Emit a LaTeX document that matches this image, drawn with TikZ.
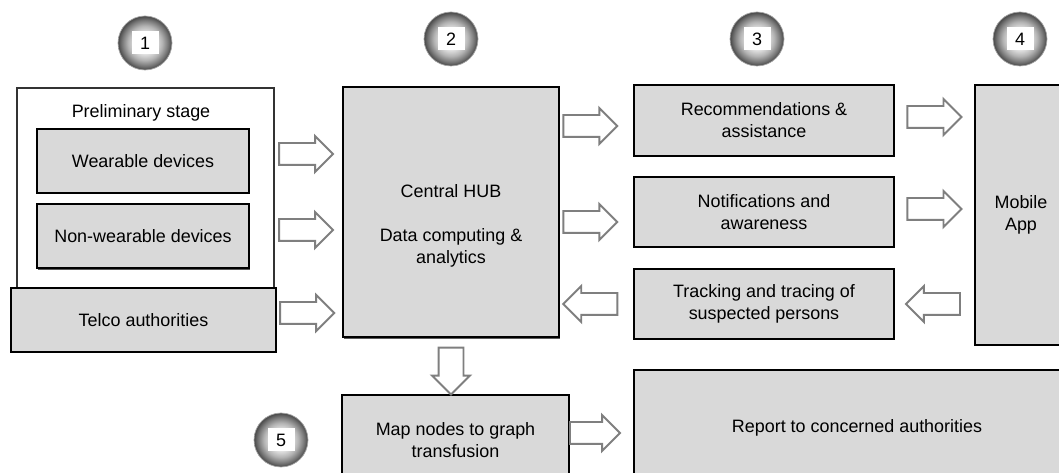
\documentclass[tikz,border=0pt]{standalone}
\usepackage{fontspec}
\setmainfont{Liberation Sans}
\usetikzlibrary{positioning,calc,shapes.arrows,shadows}
\definecolor{boxgray}{HTML}{D9D9D9}
\definecolor{arrowgray}{HTML}{7F7F7F}
\pgfdeclareradialshading{badgeshade}{\pgfpoint{0cm}{0cm}}{color(0bp)=(white); color(9bp)=(black!8); color(16bp)=(black!30); color(21bp)=(black!52); color(25bp)=(black!72); color(50bp)=(black!72)}

\begin{document}
\begin{tikzpicture}[x=0.2mm,y=-0.2mm,
  every node/.style={font=\fontsize{10.2}{12.5}\selectfont},
  sz/.style 2 args={minimum width=#1*0.2mm, minimum height=#2*0.2mm},
  blk/.style={draw=black, line width=1.1pt, fill=boxgray, align=center, inner sep=2pt},
  outerbox/.style={draw=black!80, line width=1.3pt, fill=white, inner sep=0pt},
  shadowed/.style={drop shadow={shadow xshift=0.2mm, shadow yshift=-0.5mm, fill=black!80, opacity=0.8}},
  barrow/.style={single arrow, draw=arrowgray, fill=white, line width=1.1pt, inner xsep=0pt,
    inner ysep=10*0.2mm, minimum height=54*0.2mm,
    single arrow head extend=7*0.2mm, single arrow tip angle=90},
  badge/.style={circle, minimum size=54*0.2mm, inner sep=0pt, draw=gray!70, shading=badgeshade,
    path picture={\fill[white] ([xshift=-2.7mm,yshift=-2.3mm]path picture bounding box.center)
      rectangle ([xshift=2.7mm,yshift=2.3mm]path picture bounding box.center);}}]
\useasboundingbox (0,0) rectangle (1059,473);

\node[badge] (s1) at (145,43) {1};
\node[badge] (s2) at (451,39) {2};
\node[badge] (s3) at (757,39) {3};
\node[badge] (s4) at (1020,39) {4};
\node[badge] (s5) at (281,440) {5};

\node[outerbox, sz={257}{202}] (prelim) at (145.5,189) {};
\node (prelimtitle) at (141,113) {Preliminary stage};
\node[blk, sz={212}{64}] (wear) at (143,161) {Wearable devices};
\node[blk, shadowed, sz={212}{64}] (nonwear) at (143,236) {Non-wearable devices};
\node[blk, sz={265}{64}] (telco) at (143.5,320) {Telco authorities};

\node[blk, shadowed, sz={216}{250}] (hub) at (451,212) {};
\node[align=center] (hubtext) at (451,226) {Central HUB\\[12.5pt]Data computing \&\\analytics};

\node[blk, sz={260}{71}] (reco) at (764,120.5) {Recommendations \&\\assistance};
\node[blk, sz={260}{70}] (notif) at (764,212) {Notifications and\\awareness};
\node[blk, sz={260}{70}] (track) at (764,304) {Tracking and tracing of\\suspected persons};
\node[blk, sz={92}{260}] (mobile) at (1021,215) {Mobile\\App};

\node[blk, sz={227}{90}] (map) at (455.5,440) {Map nodes to graph\\transfusion};
\node[blk, sz={446}{116}] (report) at (857,428) {Report to concerned authorities};

\path (wear -| prelim.east) -- (wear -| hub.west) node[barrow, pos=0.38, yshift=1.4mm] (w2h) {};
\path (nonwear -| prelim.east) -- (nonwear -| hub.west) node[barrow, pos=0.38, yshift=1.2mm] (n2h) {};
\path (telco.east) -- (telco -| hub.west) node[barrow, pos=0.38, yshift=1.4mm] (t2h) {};

\path (hub.east |- reco) -- (reco.west) node[barrow, pos=0.34, yshift=-1.1mm] (h2r) {};
\path (hub.east |- notif) -- (notif.west) node[barrow, pos=0.34, yshift=-2mm] (h2n) {};
\path (track.west) -- (hub.east |- track) node[barrow, pos=0.51, rotate=180] (tr2h) {};

\path (reco.east) -- (mobile.west |- reco) node[barrow, pos=0.43, yshift=0.7mm] (r2m) {};
\path (notif.east) -- (mobile.west |- notif) node[barrow, pos=0.43, yshift=0.6mm] (n2m) {};
\path (mobile.west |- track) -- (track.east) node[barrow, pos=0.45, rotate=180] (m2t) {};

\path (hub.south) -- (hub.south |- map.north) node[barrow, pos=0.48, rotate=-90,
  minimum height=47*0.2mm, inner ysep=11.5*0.2mm, single arrow head extend=6.5*0.2mm] (h2m) {};
\path (map.east) -- (report.west |- map) node[barrow, pos=0.31, yshift=1.4mm,
  minimum height=50*0.2mm] (m2r) {};
\end{tikzpicture}
\end{document}
